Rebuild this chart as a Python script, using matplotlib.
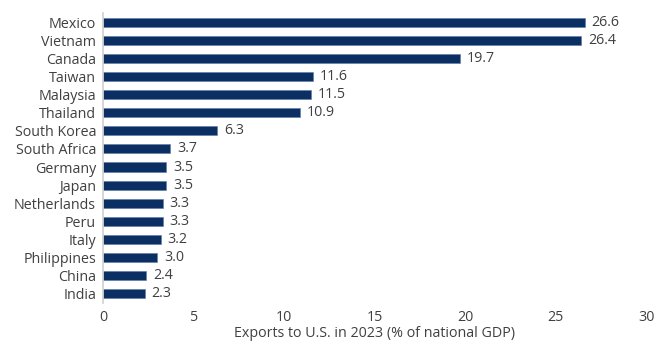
import matplotlib
matplotlib.use("Agg")
import matplotlib.pyplot as plt

countries = ["Mexico", "Vietnam", "Canada", "Taiwan", "Malaysia", "Thailand",
             "South Korea", "South Africa", "Germany", "Japan", "Netherlands",
             "Peru", "Italy", "Philippines", "China", "India"]
values = [26.6, 26.4, 19.7, 11.6, 11.5, 10.9, 6.3, 3.7, 3.5, 3.5, 3.3, 3.3, 3.2, 3.0, 2.4, 2.3]
xticks = [0, 5, 10, 15, 20, 25, 30]

plt.rcParams['font.family'] = ['Open Sans', 'DejaVu Sans']
text_color = "#404040"
bar_color = "#0b2f63"
fs = 10.3

fig = plt.figure(figsize=(6.58, 3.43), dpi=100)
ax = fig.add_axes([0.1565, 0.117, 0.8255, 0.845])

ypos = list(range(len(countries)))
ax.barh(ypos, values, height=0.5, color=bar_color, edgecolor="#5a7aa8", linewidth=0.4)
for y, v in zip(ypos, values):
    ax.text(v + 0.38, y, f"{v:.1f}", va="center", ha="left", fontsize=fs, color=text_color)

ax.set_ylim(len(countries) - 0.5, -0.5)
ax.set_xlim(0, 30)
ax.set_yticks(ypos)
ax.set_yticklabels(countries, fontsize=fs, color=text_color)
ax.set_xticks(xticks)
ax.set_xticklabels([str(t) for t in xticks], fontsize=fs, color=text_color)
ax.tick_params(axis='both', length=0)
ax.tick_params(axis='y', pad=5)
ax.tick_params(axis='x', pad=5)
for s in ["top", "right", "bottom"]:
    ax.spines[s].set_visible(False)
ax.spines["left"].set_color("#d0d0d0")
ax.spines["left"].set_linewidth(1.2)
ax.set_xlabel("Exports to U.S. in 2023 (% of national GDP)", fontsize=fs, color=text_color, labelpad=1)

fig.savefig("out.png", dpi=100)
